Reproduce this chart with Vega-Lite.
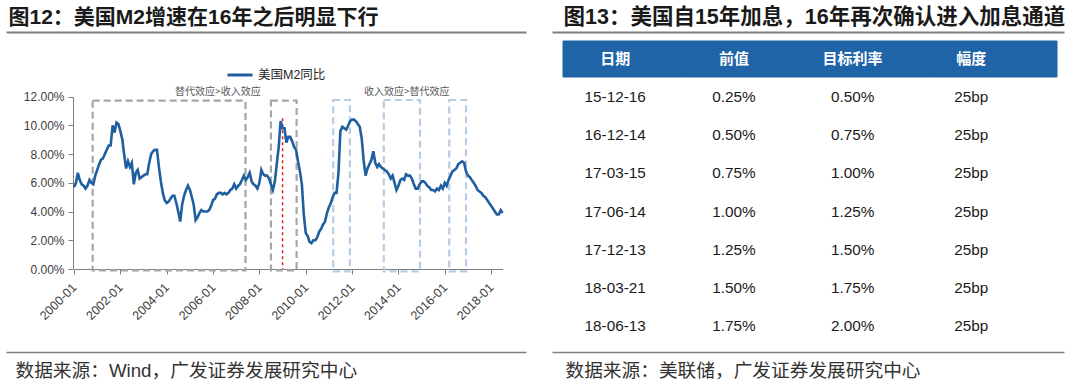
{
"$schema": "https://vega.github.io/schema/vega-lite/v6.json",
"width": 1080, "height": 384,
"autosize": {"type": "none"},
"padding": 0,
"background": "white",
"config": {"view": {"stroke": null}, "font": "Liberation Sans"},
"resolve": {"scale": {"x": "independent", "y": "independent", "color": "independent"}, "axis": {"x": "independent", "y": "independent"}},
"layer": [
{
 "data": {"values": [{"k": 0}]},
 "mark": {"type": "rule", "opacity": 0},
 "encoding": {"x": {"field": "k", "type": "quantitative", "scale": {"domain": [0, 1], "range": [6, 526]},
   "axis": {"orient": "top", "offset": -32, "domainColor": "#7f7f7f", "domainWidth": 2, "ticks": false, "labels": false, "grid": false,
     "title": "图12：美国M2增速在16年之后明显下行", "titleFont": "Liberation Sans, Noto Sans CJK SC", "titleFontSize": 21, "titleFontWeight": "bold", "titleColor": "#1a1a1a", "titleAlign": "left", "titleBaseline": "alphabetic", "titleX": 8, "titleY": -9}}}
},
{
 "data": {"values": [{"k": 0}]},
 "mark": {"type": "rule", "opacity": 0},
 "encoding": {"x": {"field": "k", "type": "quantitative", "scale": {"domain": [0, 1], "range": [6, 526]},
   "axis": {"orient": "bottom", "offset": -32, "domainColor": "#7f7f7f", "domainWidth": 1.5, "ticks": false, "labels": false, "grid": false,
     "title": "数据来源：Wind，广发证券发展研究中心", "titleFont": "Liberation Sans, Noto Sans CJK SC", "titleFontSize": 18.7, "titleFontWeight": "normal", "titleColor": "#333333", "titleAlign": "left", "titleBaseline": "alphabetic", "titleX": 15, "titleY": 24}}}
},
{
 "data": {"values": [{"k": 0}]},
 "mark": {"type": "rule", "opacity": 0},
 "encoding": {"x": {"field": "k", "type": "quantitative", "scale": {"domain": [0, 1], "range": [552, 1064]},
   "axis": {"orient": "top", "offset": -32, "domainColor": "#7f7f7f", "domainWidth": 2, "ticks": false, "labels": false, "grid": false,
     "title": "图13：美国自15年加息，16年再次确认进入加息通道", "titleFont": "Liberation Sans, Noto Sans CJK SC", "titleFontSize": 21.5, "titleFontWeight": "bold", "titleColor": "#1a1a1a", "titleAlign": "left", "titleBaseline": "alphabetic", "titleX": 563, "titleY": -9}}}
},
{
 "data": {"values": [{"k": 0}]},
 "mark": {"type": "rule", "opacity": 0},
 "encoding": {"x": {"field": "k", "type": "quantitative", "scale": {"domain": [0, 1], "range": [552, 1064]},
   "axis": {"orient": "bottom", "offset": -32, "domainColor": "#7f7f7f", "domainWidth": 1.5, "ticks": false, "labels": false, "grid": false,
     "title": "数据来源：美联储，广发证券发展研究中心", "titleFont": "Liberation Sans, Noto Sans CJK SC", "titleFontSize": 18.7, "titleFontWeight": "normal", "titleColor": "#333333", "titleAlign": "left", "titleBaseline": "alphabetic", "titleX": 565, "titleY": 24}}}
},
{
 "layer": [
  {
   "data": {"values": [{"s": "2000-10-21", "e": "2007-05-27"}, {"s": "2008-07-01", "e": "2009-08-10"}]},
   "mark": {"type": "rect", "filled": false, "color": "#a6a6a6", "strokeWidth": 2.2, "strokeDash": [7, 4]},
   "encoding": {
     "x": {"field": "s", "type": "temporal", "title": null, "scale": {"type": "utc", "domain": [{"year": 2000, "month": 1, "date": 1, "utc": true}, {"year": 2018, "month": 7, "date": 1, "utc": true}], "range": [74, 502.6]}},
     "x2": {"field": "e"},
     "y": {"datum": 11.72, "type": "quantitative", "title": null, "scale": {"domain": [0, 12], "range": [269, 96.7], "nice": false, "zero": false}},
     "y2": {"datum": -0.1}
   }
  },
  {
   "data": {"values": [{"s": "2011-03-10", "e": "2011-11-28"}, {"s": "2013-05-15", "e": "2014-12-06"}, {"s": "2016-03-12", "e": "2016-12-01"}]},
   "mark": {"type": "rect", "filled": false, "color": "#b8cce4", "strokeWidth": 2.2, "strokeDash": [7, 4]},
   "encoding": {
     "x": {"field": "s", "type": "temporal", "title": null, "scale": {"type": "utc", "domain": [{"year": 2000, "month": 1, "date": 1, "utc": true}, {"year": 2018, "month": 7, "date": 1, "utc": true}], "range": [74, 502.6]}},
     "x2": {"field": "e"},
     "y": {"datum": 11.77, "type": "quantitative", "title": null, "scale": {"domain": [0, 12], "range": [269, 96.7], "nice": false, "zero": false}},
     "y2": {"datum": -0.17}
   }
  },
  {
   "data": {"values": [{"d": "2009-01-01"}]},
   "mark": {"type": "rule", "color": "#e0201b", "strokeWidth": 1.5, "strokeDash": [3, 3]},
   "encoding": {
     "x": {"field": "d", "type": "temporal", "title": null, "scale": {"type": "utc", "domain": [{"year": 2000, "month": 1, "date": 1, "utc": true}, {"year": 2018, "month": 7, "date": 1, "utc": true}], "range": [74, 502.6]}},
     "y": {"datum": 10.5, "type": "quantitative", "title": null, "scale": {"domain": [0, 12], "range": [269, 96.7], "nice": false, "zero": false}},
     "y2": {"datum": 0}
   }
  },
  {
   "data": {"values": [{"d": "2006-03-18", "label": "替代效应>收入效应"}, {"d": "2014-05-13", "label": "收入效应>替代效应"}]},
   "mark": {"type": "text", "font": "Noto Sans CJK SC", "fontSize": 10, "color": "#595959", "baseline": "middle"},
   "encoding": {
     "x": {"field": "d", "type": "temporal", "title": null, "scale": {"type": "utc", "domain": [{"year": 2000, "month": 1, "date": 1, "utc": true}, {"year": 2018, "month": 7, "date": 1, "utc": true}], "range": [74, 502.6]}},
     "y": {"datum": 12.3, "type": "quantitative", "title": null, "scale": {"domain": [0, 12], "range": [269, 96.7], "nice": false, "zero": false}},
     "text": {"field": "label"}
   }
  },
  {
   "data": {"values": [
{"d":"2000-01-01","v":5.7},{"d":"2000-02-01","v":6.0},{"d":"2000-03-01","v":6.7},{"d":"2000-04-01","v":6.2},{"d":"2000-05-01","v":5.9},{"d":"2000-06-01","v":5.8},{"d":"2000-07-01","v":5.6},{"d":"2000-08-01","v":5.8},{"d":"2000-09-01","v":6.2},{"d":"2000-10-01","v":6.0},{"d":"2000-11-01","v":5.9},{"d":"2000-12-01","v":6.5},
{"d":"2001-01-01","v":6.9},{"d":"2001-02-01","v":7.3},{"d":"2001-03-01","v":7.6},{"d":"2001-04-01","v":7.7},{"d":"2001-05-01","v":8.0},{"d":"2001-06-01","v":8.3},{"d":"2001-07-01","v":8.6},{"d":"2001-08-01","v":8.6},{"d":"2001-09-01","v":10.0},{"d":"2001-10-01","v":9.5},{"d":"2001-11-01","v":10.2},{"d":"2001-12-01","v":10.1},
{"d":"2002-01-01","v":9.6},{"d":"2002-02-01","v":9.0},{"d":"2002-03-01","v":8.0},{"d":"2002-04-01","v":7.0},{"d":"2002-05-01","v":7.5},{"d":"2002-06-01","v":7.1},{"d":"2002-07-01","v":7.4},{"d":"2002-08-01","v":5.9},{"d":"2002-09-01","v":6.7},{"d":"2002-10-01","v":6.9},{"d":"2002-11-01","v":6.3},{"d":"2002-12-01","v":6.4},
{"d":"2003-01-01","v":6.5},{"d":"2003-02-01","v":6.6},{"d":"2003-03-01","v":6.6},{"d":"2003-04-01","v":7.4},{"d":"2003-05-01","v":8.0},{"d":"2003-06-01","v":8.2},{"d":"2003-07-01","v":8.3},{"d":"2003-08-01","v":8.3},{"d":"2003-09-01","v":7.1},{"d":"2003-10-01","v":6.1},{"d":"2003-11-01","v":5.3},{"d":"2003-12-01","v":4.8},
{"d":"2004-01-01","v":4.6},{"d":"2004-02-01","v":4.7},{"d":"2004-03-01","v":4.9},{"d":"2004-04-01","v":5.1},{"d":"2004-05-01","v":5.1},{"d":"2004-06-01","v":4.6},{"d":"2004-07-01","v":4.0},{"d":"2004-08-01","v":3.3},{"d":"2004-09-01","v":4.5},{"d":"2004-10-01","v":5.1},{"d":"2004-11-01","v":5.5},{"d":"2004-12-01","v":5.8},
{"d":"2005-01-01","v":5.5},{"d":"2005-02-01","v":5.0},{"d":"2005-03-01","v":4.5},{"d":"2005-04-01","v":3.4},{"d":"2005-05-01","v":3.6},{"d":"2005-06-01","v":3.9},{"d":"2005-07-01","v":4.1},{"d":"2005-08-01","v":4.0},{"d":"2005-09-01","v":4.0},{"d":"2005-10-01","v":4.0},{"d":"2005-11-01","v":4.1},{"d":"2005-12-01","v":4.4},
{"d":"2006-01-01","v":4.8},{"d":"2006-02-01","v":4.9},{"d":"2006-03-01","v":5.2},{"d":"2006-04-01","v":5.3},{"d":"2006-05-01","v":5.3},{"d":"2006-06-01","v":5.2},{"d":"2006-07-01","v":5.3},{"d":"2006-08-01","v":5.2},{"d":"2006-09-01","v":5.3},{"d":"2006-10-01","v":5.5},{"d":"2006-11-01","v":5.6},{"d":"2006-12-01","v":5.9},
{"d":"2007-01-01","v":5.6},{"d":"2007-02-01","v":5.8},{"d":"2007-03-01","v":5.9},{"d":"2007-04-01","v":6.2},{"d":"2007-05-01","v":6.5},{"d":"2007-06-01","v":6.2},{"d":"2007-07-01","v":6.4},{"d":"2007-08-01","v":6.7},{"d":"2007-09-01","v":6.1},{"d":"2007-10-01","v":5.9},{"d":"2007-11-01","v":5.8},{"d":"2007-12-01","v":5.6},
{"d":"2008-01-01","v":6.0},{"d":"2008-02-01","v":6.9},{"d":"2008-03-01","v":6.6},{"d":"2008-04-01","v":6.5},{"d":"2008-05-01","v":6.5},{"d":"2008-06-01","v":6.3},{"d":"2008-07-01","v":5.9},{"d":"2008-08-01","v":5.5},{"d":"2008-09-01","v":6.1},{"d":"2008-10-01","v":7.3},{"d":"2008-11-01","v":8.5},{"d":"2008-12-01","v":10.3},
{"d":"2009-01-01","v":9.8},{"d":"2009-02-01","v":9.8},{"d":"2009-03-01","v":8.8},{"d":"2009-04-01","v":9.2},{"d":"2009-05-01","v":9.2},{"d":"2009-06-01","v":8.9},{"d":"2009-07-01","v":8.5},{"d":"2009-08-01","v":8.3},{"d":"2009-09-01","v":7.5},{"d":"2009-10-01","v":6.8},{"d":"2009-11-01","v":5.9},{"d":"2009-12-01","v":3.8},
{"d":"2010-01-01","v":2.5},{"d":"2010-02-01","v":2.3},{"d":"2010-03-01","v":1.9},{"d":"2010-04-01","v":1.8},{"d":"2010-05-01","v":2.0},{"d":"2010-06-01","v":2.0},{"d":"2010-07-01","v":2.2},{"d":"2010-08-01","v":2.6},{"d":"2010-09-01","v":2.8},{"d":"2010-10-01","v":3.1},{"d":"2010-11-01","v":3.3},{"d":"2010-12-01","v":3.9},
{"d":"2011-01-01","v":4.3},{"d":"2011-02-01","v":4.6},{"d":"2011-03-01","v":5.0},{"d":"2011-04-01","v":5.3},{"d":"2011-05-01","v":5.3},{"d":"2011-06-01","v":6.7},{"d":"2011-07-01","v":9.6},{"d":"2011-08-01","v":9.9},{"d":"2011-09-01","v":9.8},{"d":"2011-10-01","v":9.7},{"d":"2011-11-01","v":10.0},{"d":"2011-12-01","v":10.3},
{"d":"2012-01-01","v":10.4},{"d":"2012-02-01","v":10.4},{"d":"2012-03-01","v":10.3},{"d":"2012-04-01","v":10.1},{"d":"2012-05-01","v":9.9},{"d":"2012-06-01","v":9.1},{"d":"2012-07-01","v":7.6},{"d":"2012-08-01","v":6.5},{"d":"2012-09-01","v":7.0},{"d":"2012-10-01","v":7.3},{"d":"2012-11-01","v":7.6},{"d":"2012-12-01","v":8.2},
{"d":"2013-01-01","v":7.4},{"d":"2013-02-01","v":7.1},{"d":"2013-03-01","v":7.3},{"d":"2013-04-01","v":7.1},{"d":"2013-05-01","v":7.0},{"d":"2013-06-01","v":6.9},{"d":"2013-07-01","v":6.8},{"d":"2013-08-01","v":6.6},{"d":"2013-09-01","v":6.3},{"d":"2013-10-01","v":6.5},{"d":"2013-11-01","v":6.0},{"d":"2013-12-01","v":5.5},
{"d":"2014-01-01","v":5.8},{"d":"2014-02-01","v":6.2},{"d":"2014-03-01","v":6.3},{"d":"2014-04-01","v":6.2},{"d":"2014-05-01","v":6.6},{"d":"2014-06-01","v":6.5},{"d":"2014-07-01","v":6.5},{"d":"2014-08-01","v":6.3},{"d":"2014-09-01","v":5.9},{"d":"2014-10-01","v":5.6},{"d":"2014-11-01","v":5.6},{"d":"2014-12-01","v":5.9},
{"d":"2015-01-01","v":6.1},{"d":"2015-02-01","v":6.1},{"d":"2015-03-01","v":6.0},{"d":"2015-04-01","v":5.8},{"d":"2015-05-01","v":5.7},{"d":"2015-06-01","v":5.5},{"d":"2015-07-01","v":5.5},{"d":"2015-08-01","v":5.4},{"d":"2015-09-01","v":5.6},{"d":"2015-10-01","v":5.5},{"d":"2015-11-01","v":5.8},{"d":"2015-12-01","v":5.6},
{"d":"2016-01-01","v":6.0},{"d":"2016-02-01","v":5.8},{"d":"2016-03-01","v":6.2},{"d":"2016-04-01","v":6.5},{"d":"2016-05-01","v":6.8},{"d":"2016-06-01","v":6.9},{"d":"2016-07-01","v":7.0},{"d":"2016-08-01","v":7.3},{"d":"2016-09-01","v":7.4},{"d":"2016-10-01","v":7.5},{"d":"2016-11-01","v":7.4},{"d":"2016-12-01","v":6.8},
{"d":"2017-01-01","v":6.5},{"d":"2017-02-01","v":6.4},{"d":"2017-03-01","v":6.2},{"d":"2017-04-01","v":6.0},{"d":"2017-05-01","v":5.8},{"d":"2017-06-01","v":5.5},{"d":"2017-07-01","v":5.4},{"d":"2017-08-01","v":5.3},{"d":"2017-09-01","v":5.1},{"d":"2017-10-01","v":5.0},{"d":"2017-11-01","v":4.8},{"d":"2017-12-01","v":4.6},
{"d":"2018-01-01","v":4.4},{"d":"2018-02-01","v":4.2},{"d":"2018-03-01","v":4.0},{"d":"2018-04-01","v":3.8},{"d":"2018-05-01","v":3.8},{"d":"2018-06-01","v":4.1},{"d":"2018-07-01","v":3.9}
   ]},
   "mark": {"type": "line", "strokeWidth": 2.6},
   "encoding": {
     "x": {"field": "d", "type": "temporal", "title": null,
       "scale": {"type": "utc", "domain": [{"year": 2000, "month": 1, "date": 1, "utc": true}, {"year": 2018, "month": 7, "date": 1, "utc": true}], "range": [74, 502.6]},
       "axis": {"orient": "bottom", "offset": -115, "grid": false,
         "values": [{"year": 2000, "month": 1, "date": 1, "utc": true}, {"year": 2002, "month": 1, "date": 1, "utc": true}, {"year": 2004, "month": 1, "date": 1, "utc": true}, {"year": 2006, "month": 1, "date": 1, "utc": true}, {"year": 2008, "month": 1, "date": 1, "utc": true}, {"year": 2010, "month": 1, "date": 1, "utc": true}, {"year": 2012, "month": 1, "date": 1, "utc": true}, {"year": 2014, "month": 1, "date": 1, "utc": true}, {"year": 2016, "month": 1, "date": 1, "utc": true}, {"year": 2018, "month": 1, "date": 1, "utc": true}],
         "labelExpr": "utcFormat(datum.value, '%Y-%m')",
         "labelAngle": -45, "labelAlign": "right", "labelBaseline": "middle", "labelPadding": 11,
         "labelFont": "Liberation Sans", "labelFontSize": 12.5, "labelColor": "#404040", "labelOverlap": false, "labelFlush": false, "labelBound": false,
         "tickSize": 5, "tickColor": "#808080", "domainColor": "#808080", "domainWidth": 1}},
     "y": {"field": "v", "type": "quantitative", "title": null,
       "scale": {"domain": [0, 12], "range": [269, 96.7], "nice": false, "zero": false},
       "axis": {"orient": "left", "offset": -73, "grid": false, "values": [0, 2, 4, 6, 8, 10, 12],
         "labelExpr": "format(datum.value, '.2f') + '%'",
         "labelFont": "Liberation Sans", "labelFontSize": 12, "labelColor": "#404040", "labelPadding": 4,
         "tickSize": 5, "tickColor": "#808080", "domainColor": "#808080", "domainWidth": 1}},
     "color": {"datum": "美国M2同比", "type": "nominal", "scale": {"range": ["#1f5f9f"]},
       "legend": {"orient": "none", "legendX": 226, "legendY": 61, "title": null, "padding": 0, "symbolType": "stroke", "symbolStrokeWidth": 3, "symbolSize": 625, "labelFont": "Liberation Sans, Noto Sans CJK SC", "labelFontSize": 12.5, "labelColor": "#262626", "labelOffset": 4}}
   }
  }
 ]
},
{
 "data": {"values": [{"col": "日期"}, {"col": "前值"}, {"col": "目标利率"}, {"col": "幅度"}]},
 "mark": {"type": "rect", "color": "#1f64a6", "stroke": "#1f64a6", "strokeWidth": 1},
 "encoding": {
   "x": {"field": "col", "type": "nominal", "scale": {"type": "band", "domain": ["日期", "前值", "目标利率", "幅度"], "range": [563, 1057], "paddingInner": 0, "paddingOuter": 0}, "axis": null},
   "y": {"datum": "表头", "type": "nominal", "scale": {"type": "band", "domain": ["表头"], "range": [41, 77], "paddingInner": 0, "paddingOuter": 0}, "axis": null}
 }
},
{
 "layer": [
  {
   "data": {"values": [{"col": "日期"}, {"col": "前值"}, {"col": "目标利率"}, {"col": "幅度"}]},
   "mark": {"type": "text", "color": "white", "font": "Noto Sans CJK SC", "fontSize": 15, "fontWeight": "bold", "baseline": "middle"},
   "encoding": {
     "x": {"field": "col", "type": "nominal", "scale": {"type": "point", "domain": ["日期", "前值", "目标利率", "幅度"], "range": [615.2, 971.3], "padding": 0}, "axis": null},
     "y": {"datum": "表头", "type": "nominal", "scale": {"type": "point", "domain": ["表头", "15-12-16", "16-12-14", "17-03-15", "17-06-14", "17-12-13", "18-03-21", "18-06-13"], "range": [59, 326], "padding": 0}, "axis": null},
     "text": {"field": "col"}
   }
  },
  {
   "data": {"values": [
     {"日期": "15-12-16", "前值": "0.25%", "目标利率": "0.50%", "幅度": "25bp"},
     {"日期": "16-12-14", "前值": "0.50%", "目标利率": "0.75%", "幅度": "25bp"},
     {"日期": "17-03-15", "前值": "0.75%", "目标利率": "1.00%", "幅度": "25bp"},
     {"日期": "17-06-14", "前值": "1.00%", "目标利率": "1.25%", "幅度": "25bp"},
     {"日期": "17-12-13", "前值": "1.25%", "目标利率": "1.50%", "幅度": "25bp"},
     {"日期": "18-03-21", "前值": "1.50%", "目标利率": "1.75%", "幅度": "25bp"},
     {"日期": "18-06-13", "前值": "1.75%", "目标利率": "2.00%", "幅度": "25bp"}
   ]},
   "transform": [{"fold": ["日期", "前值", "目标利率", "幅度"], "as": ["col", "val"]}],
   "mark": {"type": "text", "color": "#1a1a1a", "font": "Liberation Sans", "fontSize": 15.3, "baseline": "middle"},
   "encoding": {
     "x": {"field": "col", "type": "nominal", "scale": {"type": "point", "domain": ["日期", "前值", "目标利率", "幅度"], "range": [615.2, 971.3], "padding": 0}, "axis": null},
     "y": {"field": "日期", "type": "nominal", "scale": {"type": "point", "domain": ["表头", "15-12-16", "16-12-14", "17-03-15", "17-06-14", "17-12-13", "18-03-21", "18-06-13"], "range": [59, 326], "padding": 0}, "axis": null},
     "text": {"field": "val"}
   }
  }
 ]
}
]
}
